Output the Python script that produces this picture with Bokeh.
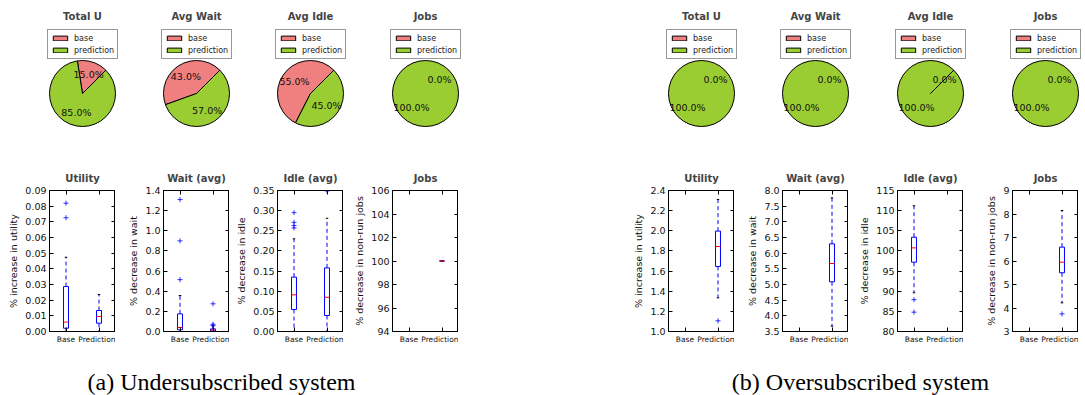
import math

from bokeh.core.properties import value
from bokeh.embed import file_html
from bokeh.layouts import column, row
from bokeh.models import (ColumnDataSource, FixedTicker, Label, Legend, LegendItem,
                          LinearAxis, PrintfTickFormatter, Range1d)
from bokeh.plotting import figure
from bokeh.resources import INLINE

# ---------------------------------------------------------------- data
pie_titles = ["Total U", "Avg Wait", "Avg Idle", "Jobs"]
pie_labels = ["base", "prediction"]
under_base_share = [15.0, 43.0, 55.0, 0.0]
under_pred_share = [85.0, 57.0, 45.0, 100.0]
over_base_share = [0.0, 0.0, 100.0, 0.0]
over_pred_share = [100.0, 100.0, 0.0, 100.0]

box_titles = ["Utility", "Wait (avg)", "Idle (avg)", "Jobs"]
box_ylabels = ["% increase in utility", "% decrease in wait",
               "% decrease in idle", "% decrease in non-run jobs"]
groups = ["Base", "Prediction"]

# five-number summaries: [whisker low, q1, median, q3, whisker high]
under_util_base = [0.0, 0.0021, 0.0060, 0.0287, 0.0474]
under_util_pred = [0.0, 0.0053, 0.0096, 0.0134, 0.0236]
under_wait_base = [0.0, 0.017, 0.040, 0.175, 0.357]
under_wait_pred = [0.0, 0.005, 0.016, 0.026, 0.048]
under_idle_base = [0.0, 0.0546, 0.091, 0.135, 0.230]
under_idle_pred = [0.0, 0.0397, 0.085, 0.158, 0.281]
under_jobs_base = []
under_jobs_pred = [100.0, 100.0, 100.0, 100.0, 100.0]

over_util_base = []
over_util_pred = [1.334, 1.646, 1.844, 1.997, 2.311]
over_wait_base = []
over_wait_pred = [3.67, 5.085, 5.67, 6.298, 7.766]
over_idle_base = [89.6, 97.2, 100.76, 103.4, 111.2]
over_idle_pred = []
over_jobs_base = []
over_jobs_pred = [4.22, 5.50, 5.95, 6.59, 8.15]

# fliers
under_util_base_out = [0.0819, 0.0726]
under_util_pred_out = []
under_wait_base_out = [1.31, 0.90, 0.515]
under_wait_pred_out = [0.275, 0.072, 0.060]
under_idle_base_out = [0.295, 0.271, 0.263, 0.257]
under_idle_pred_out = [0.349]
under_jobs_base_out = []
under_jobs_pred_out = []

over_util_base_out = []
over_util_pred_out = [1.106]
over_wait_base_out = []
over_wait_pred_out = []
over_idle_base_out = [87.9, 84.8]
over_idle_pred_out = []
over_jobs_base_out = []
over_jobs_pred_out = [3.75]

# y ticks per panel
under_util_ticks = [0.00, 0.01, 0.02, 0.03, 0.04, 0.05, 0.06, 0.07, 0.08, 0.09]
under_wait_ticks = [0.0, 0.2, 0.4, 0.6, 0.8, 1.0, 1.2, 1.4]
under_idle_ticks = [0.00, 0.05, 0.10, 0.15, 0.20, 0.25, 0.30, 0.35]
under_jobs_ticks = [94, 96, 98, 100, 102, 104, 106]
over_util_ticks = [1.0, 1.2, 1.4, 1.6, 1.8, 2.0, 2.2, 2.4]
over_wait_ticks = [3.5, 4.0, 4.5, 5.0, 5.5, 6.0, 6.5, 7.0, 7.5, 8.0]
over_idle_ticks = [80, 85, 90, 95, 100, 105, 110, 115]
over_jobs_ticks = [3, 4, 5, 6, 7, 8, 9]

captions = ["(a) Undersubscribed system", "(b) Oversubscribed system"]

# ---------------------------------------------------------------- style
FONT = "DejaVu Sans"
BASE_COLOR = "#f08080"
PRED_COLOR = "#9acd32"
FRAME_W = 66
FRAME_LEFTS = [49, 163, 277, 392, 668, 782, 897, 1012]
PIE_R_PX = 33.0
PIE_HALF = 38
PIE_TOP = 28
TOP_H = 140
PIE_CY = 93
LEGEND_BOTTOM = 59
BOX_TOP = 50
BOX_FRAME_H = 141
BOX_BOTTOM = 14
BOX_W = 0.15


def pie_panel(title, shares, left_border):
    frame_h = TOP_H - PIE_TOP
    cy_from_top = PIE_CY - PIE_TOP
    p = figure(frame_width=2 * PIE_HALF, frame_height=frame_h,
               min_border_left=left_border, min_border_right=0, min_border_top=PIE_TOP,
               min_border_bottom=0,
               x_range=Range1d(-PIE_HALF / PIE_R_PX, PIE_HALF / PIE_R_PX),
               y_range=Range1d(-(frame_h - cy_from_top) / PIE_R_PX, cy_from_top / PIE_R_PX),
               output_backend="svg", toolbar_location=None, title=title)
    p.axis.visible = False
    p.grid.visible = False
    p.outline_line_color = None
    p.title.text_font = FONT
    p.title.text_font_size = "10px"
    p.title.text_font_style = "bold"
    p.title.align = "center"
    p.title.standoff = 13

    colors = [BASE_COLOR, PRED_COLOR]
    start = math.radians(45)
    starts, ends, mids = [], [], []
    for s in shares:
        sweep = 2 * math.pi * s / 100.0
        starts.append(start)
        ends.append(start + sweep)
        mids.append(start + sweep / 2)
        start += sweep

    for i, s in enumerate(shares):
        p.wedge(x=0, y=0, radius=1, start_angle=starts[i], end_angle=ends[i],
                fill_color=colors[i], line_color=None)
        if s < 100.0:
            ang = [starts[i], ends[i]]
            p.segment(x0=[0, 0], y0=[0, 0],
                      x1=[math.cos(a) for a in ang], y1=[math.sin(a) for a in ang],
                      line_color="black", line_width=1)
    p.circle(x=0, y=0, radius=1, fill_color=None, line_color="black", line_width=1)

    p.text(x=[0.6 * math.cos(m) for m in mids], y=[0.6 * math.sin(m) for m in mids],
           text=["%1.1f%%" % s for s in shares], text_align="center",
           text_baseline="middle", text_font=value(FONT), text_font_size="9.5px",
           text_color="#111111")

    src = ColumnDataSource(dict(start=starts, end=ends, color=colors, label=pie_labels))
    proxy = p.wedge(x=0, y=0, radius=1, start_angle="start", end_angle="end",
                    fill_color="color", line_color="black", line_width=1,
                    source=src, visible=False)
    items = [LegendItem(label=lab, renderers=[proxy], index=i)
             for i, lab in enumerate(pie_labels)]
    legend = Legend(items=items, location=(PIE_HALF - 35, TOP_H - LEGEND_BOTTOM),
                    orientation="vertical", padding=3, spacing=2, margin=0,
                    glyph_width=18, glyph_height=6, label_height=10, label_standoff=5,
                    label_text_font=FONT, label_text_font_size="8px",
                    label_text_line_height=1.0,
                    label_text_color="#222222", border_line_color="#333333",
                    border_line_width=1, background_fill_alpha=1.0)
    p.add_layout(legend)
    return p


def tick_only_axis(ticker):
    # mirrored axis: inward tick marks, no labels
    return LinearAxis(ticker=ticker, major_label_text_font_size="1px",
                      major_label_text_color=None, major_label_standoff=0,
                      major_tick_in=4, major_tick_out=0, minor_tick_in=0, minor_tick_out=0,
                      axis_line_color="black")


def box_panel(title, ylabel, stats, fliers, yticks, fmt, left_border):
    p = figure(frame_width=FRAME_W, frame_height=BOX_FRAME_H,
               min_border_left=left_border, min_border_right=0,
               min_border_top=BOX_TOP, min_border_bottom=BOX_BOTTOM,
               x_range=Range1d(0.5, 2.5), y_range=Range1d(yticks[0], yticks[-1]),
               output_backend="svg", toolbar_location=None, title=title)
    p.grid.visible = False
    p.outline_line_color = "black"
    p.outline_line_width = 1
    p.title.text_font = FONT
    p.title.text_font_size = "10px"
    p.title.text_font_style = "bold"
    p.title.align = "center"
    p.title.standoff = 14

    positions = [1, 2]
    xt = FixedTicker(ticks=positions)
    yt = FixedTicker(ticks=yticks)
    xa = p.xaxis[0]
    xa.ticker = xt
    xa.major_label_overrides = {pos: g for pos, g in zip(positions, groups)}
    xa.major_label_text_font = FONT
    xa.major_label_text_font_size = "7.5px"
    xa.major_label_standoff = 3
    ya = p.yaxis[0]
    ya.ticker = yt
    ya.formatter = PrintfTickFormatter(format=fmt)
    ya.major_label_text_font = FONT
    ya.major_label_text_font_size = "9.5px"
    ya.major_label_standoff = 3
    ya.axis_label = ylabel
    ya.axis_label_text_font = FONT
    ya.axis_label_text_font_size = "9.5px"
    ya.axis_label_text_font_style = "normal"
    ya.axis_label_standoff = 3
    for ax in (xa, ya):
        ax.major_tick_in = 4
        ax.major_tick_out = 0
        ax.minor_tick_in = 0
        ax.minor_tick_out = 0
        ax.axis_line_color = "black"
        ax.major_tick_line_color = "black"
        ax.major_label_text_color = "#111111"
        ax.axis_label_text_color = "#111111"

    p.add_layout(tick_only_axis(yt), "right")
    p.add_layout(tick_only_axis(xt), "above")

    for pos, st, out in zip(positions, stats, fliers):
        if st:
            lo, q1, med, q3, hi = st
            p.quad(left=pos - BOX_W / 2, right=pos + BOX_W / 2, bottom=q1, top=q3,
                   fill_color=None, line_color="blue", line_width=1)
            p.segment(x0=[pos, pos], y0=[q3, q1], x1=[pos, pos], y1=[hi, lo],
                      line_color="blue", line_width=1, line_dash="4 3")
            p.segment(x0=[pos - BOX_W / 4] * 2, y0=[hi, lo], x1=[pos + BOX_W / 4] * 2,
                      y1=[hi, lo], line_color="black", line_width=1)
            p.segment(x0=[pos - BOX_W / 2], y0=[med], x1=[pos + BOX_W / 2], y1=[med],
                      line_color="red", line_width=1)
        if out:
            p.scatter(x=[pos] * len(out), y=out, marker="cross", size=5,
                      line_color="blue", line_width=1, line_alpha=0.8)
    return p


# horizontal placement: every panel sits in the slot given by its frame's left edge
box_borders, pie_borders = [], []
prev_box_end, prev_pie_end = 0, 0
for fl in FRAME_LEFTS:
    box_borders.append(fl - prev_box_end)
    prev_box_end = fl + FRAME_W
    pie_left = fl + FRAME_W // 2 - PIE_HALF
    pie_borders.append(pie_left - prev_pie_end)
    prev_pie_end = pie_left + 2 * PIE_HALF

pie_shares = [[b, pr] for b, pr in zip(under_base_share, under_pred_share)] + \
             [[b, pr] for b, pr in zip(over_base_share, over_pred_share)]
pies = [pie_panel(t, sh, lb) for t, sh, lb in
        zip(pie_titles * 2, pie_shares, pie_borders)]

all_stats = [(under_util_base, under_util_pred), (under_wait_base, under_wait_pred),
             (under_idle_base, under_idle_pred), (under_jobs_base, under_jobs_pred),
             (over_util_base, over_util_pred), (over_wait_base, over_wait_pred),
             (over_idle_base, over_idle_pred), (over_jobs_base, over_jobs_pred)]
all_out = [(under_util_base_out, under_util_pred_out),
           (under_wait_base_out, under_wait_pred_out),
           (under_idle_base_out, under_idle_pred_out),
           (under_jobs_base_out, under_jobs_pred_out),
           (over_util_base_out, over_util_pred_out),
           (over_wait_base_out, over_wait_pred_out),
           (over_idle_base_out, over_idle_pred_out),
           (over_jobs_base_out, over_jobs_pred_out)]
all_ticks = [under_util_ticks, under_wait_ticks, under_idle_ticks, under_jobs_ticks,
             over_util_ticks, over_wait_ticks, over_idle_ticks, over_jobs_ticks]
all_fmt = ["%.2f", "%.1f", "%.2f", "%d", "%.1f", "%.1f", "%d", "%d"]

boxes = [box_panel(t, yl, st, o, tk, f, lb) for t, yl, st, o, tk, f, lb in
         zip(box_titles * 2, box_ylabels * 2, all_stats, all_out, all_ticks,
             all_fmt, box_borders)]

top = row(*pies)
bottom_h = BOX_TOP + BOX_FRAME_H + BOX_BOTTOM
bottom = row(*boxes)

cap = figure(width=1085, height=395 - TOP_H - bottom_h, min_border=0,
             x_range=Range1d(0, 1), y_range=Range1d(0, 1),
             output_backend="svg", toolbar_location=None)
cap.axis.visible = False
cap.grid.visible = False
cap.outline_line_color = None
for txt, cxp in zip(captions, [221, 860]):
    cap.add_layout(Label(x=cxp, y=15, x_units="screen", y_units="screen", text=txt,
                         text_align="center", text_baseline="middle",
                         text_font="Liberation Serif", text_font_size="24px",
                         text_color="black"))

layout = column(top, bottom, cap)
open("out.html", "w").write(file_html(layout, INLINE))
